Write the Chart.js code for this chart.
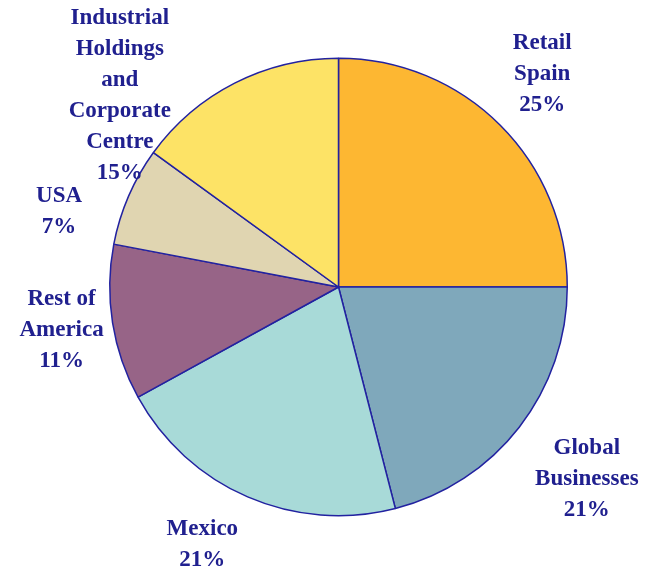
<!DOCTYPE html>
<html>
<head>
<meta charset="utf-8">
<script src="https://cdn.jsdelivr.net/npm/chart.js@4.4.0/dist/chart.umd.min.js"></script>
<style>
  html, body { margin: 0; padding: 0; background: #ffffff; }
  #wrap { width: 649px; height: 568px; position: relative; }
</style>
</head>
<body>
<div id="wrap"><canvas id="pieCanvas"></canvas></div>
<script>
// Segments, clockwise from 12 o'clock
const labels = [
    ['Retail', 'Spain'],
    ['Global', 'Businesses'],
    ['Mexico'],
    ['Rest of', 'America'],
    ['USA'],
    ['Industrial', 'Holdings', 'and', 'Corporate', 'Centre']
];
const shares = [25, 21, 21, 11, 7, 15];
const colors = ['#FDB732', '#7FA8BB', '#A8DAD8', '#976487', '#E0D5B1', '#FDE366'];

// label placement: angle (deg, clockwise from top) and distance from pie centre
const labelAngle = [43.5, 127.5, 208, 261.5, 285.5, 311.5];
const labelDist = [296, 313, 290, 280, 290, 292];

const labelColor = '#20208F';
const lineHeight = 31;

// draws the outside labels with name lines + percentage
const outsideLabels = {
    id: 'outsideLabels',
    afterDraw(chart) {
        const c = chart.ctx;
        const arc = chart.getDatasetMeta(0).data[0];
        const cx = arc.x, cy = arc.y;
        c.save();
        c.font = 'bold 23px "Liberation Serif", "Times New Roman", serif';
        c.fillStyle = labelColor;
        c.textAlign = 'center';
        c.textBaseline = 'middle';
        labels.forEach((lines, i) => {
            const a = labelAngle[i] * Math.PI / 180;
            const x = cx + Math.sin(a) * labelDist[i];
            const y = cy - Math.cos(a) * labelDist[i] + 2;
            const all = lines.concat([shares[i] + '%']);
            const top = y - (all.length - 1) * lineHeight / 2;
            all.forEach((t, j) => c.fillText(t, x, top + j * lineHeight));
        });
        c.restore();
    }
};

new Chart(document.getElementById('pieCanvas'), {
    type: 'pie',
    data: {
        labels: labels.map(l => l.join(' ')),
        datasets: [{
            data: shares,
            backgroundColor: colors,
            borderColor: '#2222A0',
            borderWidth: 1.5,
            borderAlign: 'center'
        }]
    },
    options: {
        responsive: true,
        maintainAspectRatio: false,
        animation: false,
        layout: { padding: { left: 109, right: 81, top: 57, bottom: 51 } },
        plugins: {
            legend: { display: false },
            tooltip: { enabled: false }
        }
    },
    plugins: [outsideLabels]
});
</script>
</body>
</html>
